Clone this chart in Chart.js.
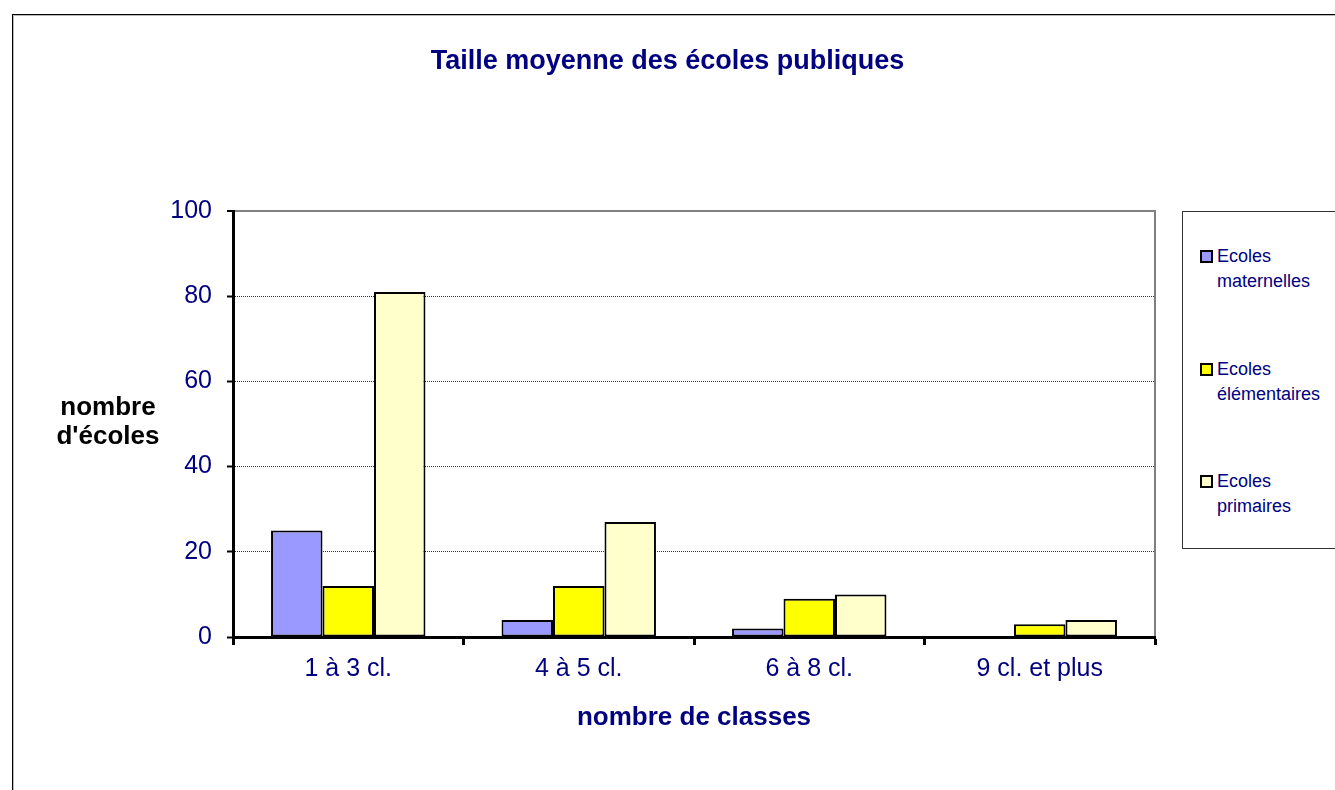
<!DOCTYPE html>
<html>
<head>
<meta charset="utf-8">
<script src="https://cdn.jsdelivr.net/npm/chart.js@4.4.1/dist/chart.umd.min.js"></script>
<style>
html,body{margin:0;padding:0;background:#fff;overflow:hidden;}
#wrap{position:relative;width:1335px;height:790px;overflow:hidden;}
#frame{position:absolute;left:12px;top:14px;width:1400px;height:900px;border-left:1px solid #000;border-top:1px solid #000;box-shadow:inset 1px 1px 0 #bbb;}
#c{position:absolute;left:0;top:0;}
#ytitle{position:absolute;left:40px;width:136px;top:392px;text-align:center;font:bold 26px "Liberation Sans",Arial,sans-serif;line-height:29px;color:#000;}
#legend{position:absolute;left:1182px;top:211px;width:220px;height:336px;border:1px solid #333;background:#fff;}
.sw{position:absolute;left:17px;width:9px;height:9px;border:2px solid #000;}
.lt{position:absolute;left:34px;font:18px "Liberation Sans",Arial,sans-serif;line-height:25px;color:#000080;white-space:nowrap;}
</style>
</head>
<body>
<div id="wrap">
  <div id="frame"></div>
  <canvas id="c" width="1335" height="790"></canvas>
  <div id="ytitle">nombre<br>d'écoles</div>
  <div id="legend"></div>
</div>
<script>
const categories = ['1 à 3 cl.', '4 à 5 cl.', '6 à 8 cl.', '9 cl. et plus'];
const seriesNames = ['Ecoles maternelles', 'Ecoles élémentaires', 'Ecoles primaires'];
const maternelles = [25, 4, 2, 0];
const elementaires = [12, 12, 9, 3];
const primaires = [81, 27, 10, 4];
const seriesColors = ['#9999FF', '#FFFF00', '#FFFFCC'];
const yTicks = [0, 20, 40, 60, 80, 100];
const chartTitle = 'Taille moyenne des écoles publiques';
const xTitle = 'nombre de classes';

const NAVY = '#000080';
const FONT = '"Liberation Sans", Arial, sans-serif';
Chart.defaults.font.family = FONT;

const seriesData = [maternelles, elementaires, primaires];
const datasets = seriesNames.map((name, i) => ({
  label: name,
  data: seriesData[i],
  backgroundColor: seriesColors[i],
  borderColor: '#000',
  borderWidth: 2,
  borderSkipped: false,
  yAxisID: 'y',
  xAxisID: 'x'
}));

new Chart(document.getElementById('c'), {
  type: 'bar',
  data: { labels: categories, datasets },
  options: {
    responsive: false,
    animation: false,
    devicePixelRatio: 1,
    layout: { padding: 0 },
    datasets: { bar: { categoryPercentage: 0.67, barPercentage: 1.0 } },
    plugins: {
      legend: { display: false },
      tooltip: { enabled: false },
      title: {
        display: true,
        text: chartTitle,
        color: NAVY,
        font: { size: 27, weight: 'bold', family: FONT, lineHeight: 1.2 },
        padding: { top: 45, bottom: 133.6 }
      }
    },
    scales: {
      y: {
        type: 'linear',
        position: 'left',
        min: 0,
        max: 100,
        afterBuildTicks: (s) => { s.ticks = yTicks.map(v => ({ value: v })); },
        afterFit: (s) => { s.width = 233; },
        ticks: { color: NAVY, font: { size: 25, family: FONT }, padding: 15 },
        border: {
          display: true, color: '#000', width: 3,
          dash: (ctx) => (ctx.tick && ctx.tick.value === 100) ? [] : [1, 1]
        },
        grid: {
          drawTicks: true,
          tickLength: 6,
          tickWidth: 2,
          tickColor: '#000',
          tickBorderDash: [],
          lineWidth: (ctx) => (ctx.tick && ctx.tick.value === 100) ? 2 : 1,
          color: (ctx) => {
            if (!ctx.tick) return '#333';
            if (ctx.tick.value === 0) return 'rgba(0,0,0,0)';
            if (ctx.tick.value === 100) return '#808080';
            return '#333';
          }
        }
      },
      yR: {
        type: 'linear',
        position: 'right',
        display: true,
        min: 0,
        max: 100,
        afterFit: (s) => { s.width = 180; },
        ticks: { display: false },
        grid: { display: false, drawTicks: false },
        border: { display: true, color: '#808080', width: 2 }
      },
      x: {
        type: 'category',
        position: 'bottom',
        afterFit: (s) => { s.height = 153; },
        ticks: { color: NAVY, font: { size: 25, family: FONT }, padding: 9, maxRotation: 0 },
        border: { display: true, color: '#000', width: 3 },
        grid: {
          offset: true,
          drawOnChartArea: false,
          drawTicks: true,
          tickLength: 8,
          tickWidth: 3,
          tickColor: '#000',
          color: '#000'
        },
        title: {
          display: true,
          text: xTitle,
          color: NAVY,
          font: { size: 26, weight: 'bold', family: FONT, lineHeight: 1.2 },
          padding: { top: 0, bottom: 57 }
        }
      }
    }
  }
});

// HTML legend built from the series arrays
const legend = document.getElementById('legend');
seriesNames.forEach((name, i) => {
  const top = 38 + i * 112.5;
  const sw = document.createElement('div');
  sw.className = 'sw';
  sw.style.top = top + 'px';
  sw.style.background = seriesColors[i];
  legend.appendChild(sw);
  const idx = name.indexOf(' ');
  const lt = document.createElement('div');
  lt.className = 'lt';
  lt.style.top = (top - 5.7) + 'px';
  lt.innerHTML = name.slice(0, idx) + '<br>' + name.slice(idx + 1);
  legend.appendChild(lt);
});
</script>
</body>
</html>
